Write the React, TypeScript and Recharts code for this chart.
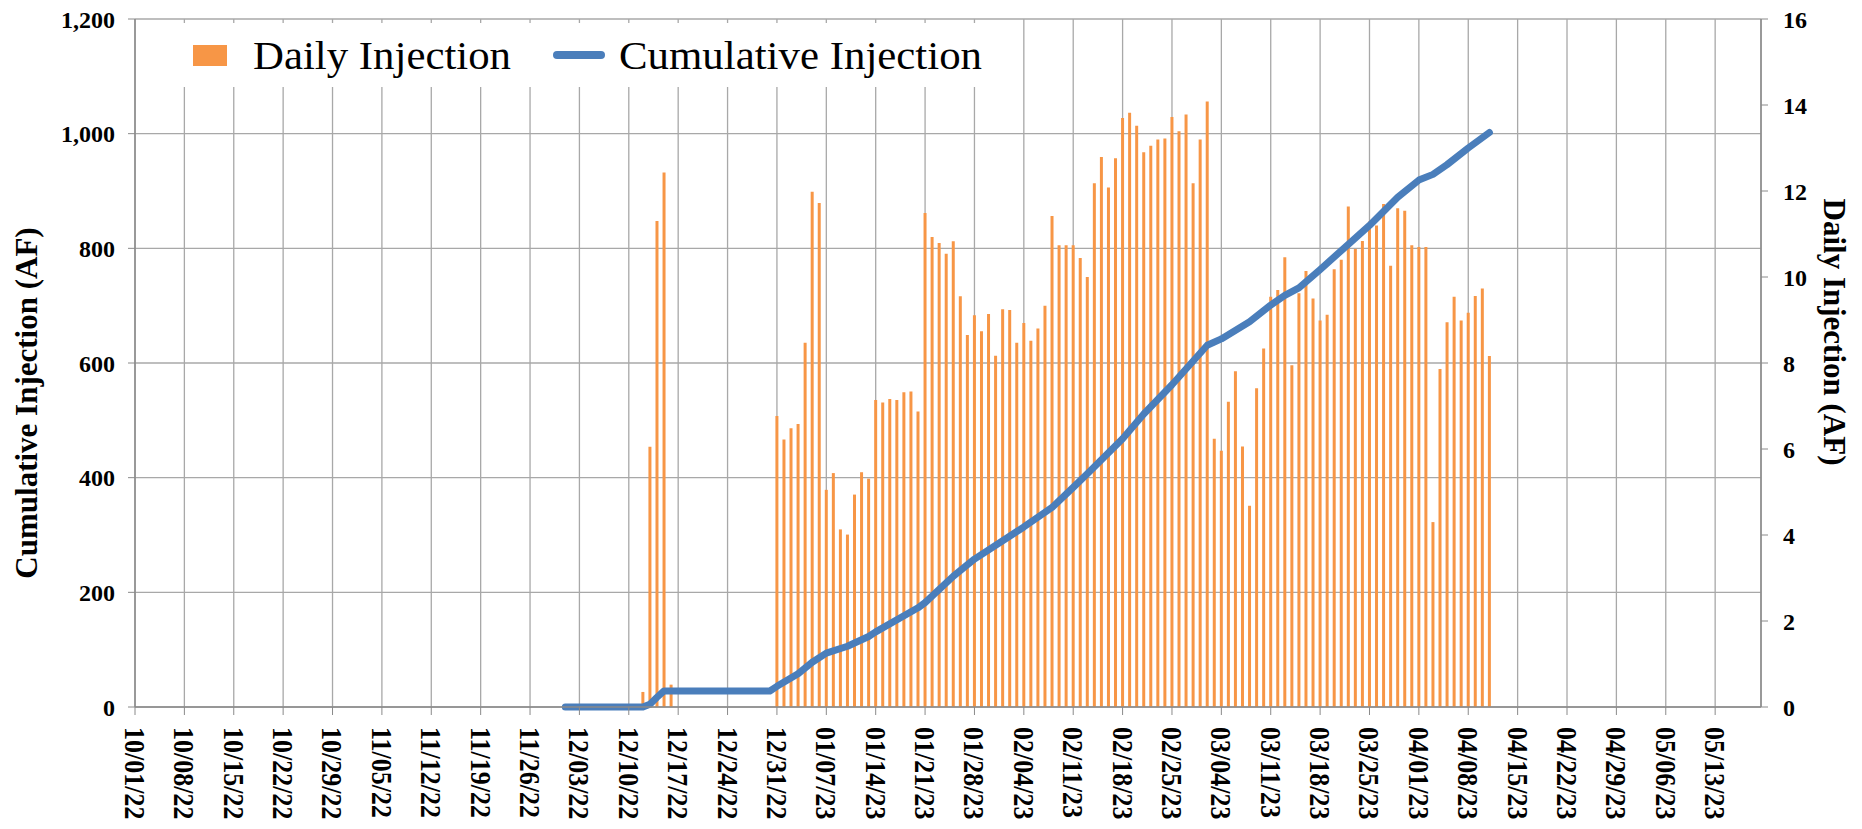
import React from "react"
import { ComposedChart, Bar, Line, XAxis, YAxis, CartesianGrid } from "recharts"

// weekly date labels on the x axis (first one is the axis origin)
const weekLabels = [
  "10/01/22", "10/08/22", "10/15/22", "10/22/22", "10/29/22", "11/05/22", "11/12/22",
  "11/19/22", "11/26/22", "12/03/22", "12/10/22", "12/17/22", "12/24/22", "12/31/22",
  "01/07/23", "01/14/23", "01/21/23", "01/28/23", "02/04/23", "02/11/23", "02/18/23",
  "02/25/23", "03/04/23", "03/11/23", "03/18/23", "03/25/23", "04/01/23", "04/08/23",
  "04/15/23", "04/22/23", "04/29/23", "05/06/23", "05/13/23",
]

// daily injection (AF), one value per day starting 12/12/22
const dailyStart = "12/12/22"
const dailyValues = [
  0.35, 6.05, 11.3, 12.43, 0.52,
  null, null, null, null, null, null, null, null, null, null, null, null, null, null,
  6.77,
  6.22, 6.48, 6.58, 8.47, 11.98, 11.72, 5.05, 5.44, 4.13, 4.01, 4.94, 5.46, 5.31, 7.14, 7.08,
  7.16, 7.14, 7.32, 7.34, 6.87, 11.49, 10.93, 10.79, 10.54, 10.83, 9.55, 8.65, 9.11, 8.74, 9.14, 8.17,
  9.25, 9.23, 8.47, 8.93, 8.52, 8.8, 9.33, 11.42, 10.74, 10.74, 10.74, 10.44, 10.0, 12.18,
  12.79, 12.08, 12.76, 13.7, 13.82, 13.52, 12.9, 13.05, 13.2, 13.22, 13.72, 13.39, 13.78, 12.18,
  13.2, 14.08, 6.24, 5.96, 7.1, 7.81, 6.06, 4.68, 7.41, 8.34, 9.54, 9.7, 10.46, 7.95, 9.62,
  10.14, 9.5, 8.99, 9.12, 10.18, 10.4, 11.64, 10.65, 10.84, 11.29, 11.2, 11.7, 10.26, 11.6, 11.54, 10.74,
  10.7, 10.7, 4.3, 7.86, 8.95, 9.54, 8.99, 9.17, 9.56, 9.73, 8.16,
]

// cumulative injection (AF) read at these dates
const cumDates = [
  "12/01/22", "12/12/22", "12/13/22", "12/14/22", "12/15/22", "12/30/22", "12/31/22",
  "01/03/23", "01/05/23", "01/07/23", "01/10/23", "01/13/23", "01/14/23", "01/20/23",
  "01/21/23", "01/25/23", "01/28/23", "02/04/23", "02/08/23", "02/11/23", "02/13/23",
  "02/18/23", "02/21/23", "02/25/23", "03/02/23", "03/04/23", "03/08/23", "03/11/23",
  "03/13/23", "03/15/23", "03/18/23", "03/22/23", "03/25/23", "03/29/23", "04/01/23",
  "04/03/23", "04/05/23", "04/08/23", "04/11/23",
]
const cumValues = [
  0, 0, 5, 17, 28, 28, 36,
  58, 78, 94, 106, 123, 131, 173,
  182, 228, 258, 314, 348, 383, 407,
  468, 511, 562, 631, 642, 672, 701,
  718, 731, 763, 807, 840, 889, 919,
  929, 946, 975, 1002,
]

const leftTicks = [0, 200, 400, 600, 800, 1000, 1200]
const rightTicks = [0, 2, 4, 6, 8, 10, 12, 14, 16]

const ORIGIN = Date.UTC(2022, 9, 1)
const dayOf = (s: string) => {
  const [m, d, y] = s.split("/").map(Number)
  return Math.round((Date.UTC(2000 + y, m - 1, d) - ORIGIN) / 86400000)
}

const TOTAL_DAYS = 231
const X_MAX = 230.5

const data = Array.from({ length: TOTAL_DAYS }, (_, day) => ({
  day,
  daily: null as number | null,
  cum: null as number | null,
}))
dailyValues.forEach((v, i) => {
  data[dayOf(dailyStart) + i].daily = v
})
cumDates.forEach((s, i) => {
  data[dayOf(s)].cum = cumValues[i]
})

const weekTicks = weekLabels.map(dayOf)
const dayTicks = data.map((d) => d.day)
const leftMinor = Array.from({ length: 31 }, (_, i) => i * 40)
const rightMinor = Array.from({ length: 33 }, (_, i) => i * 0.5)

const FONT = "'Liberation Serif', 'Times New Roman', serif"
const AXIS = "#8a8a8a"
const GRID = "#a8a8a8"

const DateTick = (props: any) => {
  const { x, y, payload } = props
  const label = weekLabels[weekTicks.indexOf(payload.value)]
  return (
    <text
      x={0}
      y={0}
      transform={`translate(${x}, ${y}) rotate(90) scale(1, 1.12)`}
      textAnchor="start"
      dominantBaseline="central"
      fontFamily={FONT}
      fontWeight="bold"
      fontSize={26}
      fill="#000"
    >
      {label}
    </text>
  )
}

const LeftTitle = (props: any) => {
  const { viewBox } = props
  const cx = viewBox.x + 26
  const cy = viewBox.y + viewBox.height / 2 + 40
  return (
    <text
      x={cx}
      y={cy}
      transform={`rotate(-90, ${cx}, ${cy})`}
      textAnchor="middle"
      dominantBaseline="central"
      fontFamily={FONT}
      fontWeight="bold"
      fontSize={31}
      fill="#000"
    >
      Cumulative Injection (AF)
    </text>
  )
}

const RightTitle = (props: any) => {
  const { viewBox } = props
  const cx = viewBox.x + viewBox.width - 28
  const cy = viewBox.y + viewBox.height / 2 - 31
  return (
    <text
      x={cx}
      y={cy}
      transform={`rotate(90, ${cx}, ${cy})`}
      textAnchor="middle"
      dominantBaseline="central"
      fontFamily={FONT}
      fontWeight="bold"
      fontSize={31}
      fill="#000"
    >
      Daily Injection (AF)
    </text>
  )
}

const tickStyle = { fontFamily: FONT, fontWeight: "bold", fontSize: 24, fill: "#000" }

export default function App() {
  return (
    <div style={{ position: "absolute", left: 0, top: 0, width: 1862, height: 829, background: "#fff" }}>
      <ComposedChart
        width={1862}
        height={829}
        data={data}
        margin={{ top: 19, right: 0, bottom: 0, left: 0 }}
      >
        <XAxis
          xAxisId="minor"
          dataKey="day"
          type="number"
          domain={[0, X_MAX]}
          allowDataOverflow
          ticks={dayTicks}
          interval={0}
          tick={false}
          tickSize={5}
          axisLine={false}
          tickLine={{ stroke: AXIS }}
          height={0}
        />
        <XAxis
          dataKey="day"
          type="number"
          domain={[0, X_MAX]}
          allowDataOverflow
          ticks={weekTicks}
          interval={0}
          tick={<DateTick />}
          tickSize={8}
          tickMargin={12}
          axisLine={{ stroke: AXIS, strokeWidth: 1.5 }}
          tickLine={{ stroke: AXIS }}
          height={122}
        />
        <YAxis
          yAxisId="leftMinor"
          orientation="left"
          domain={[0, 1200]}
          ticks={leftMinor}
          interval={0}
          tick={false}
          tickSize={5}
          axisLine={false}
          tickLine={{ stroke: AXIS }}
          width={0}
        />
        <YAxis
          yAxisId="left"
          orientation="left"
          domain={[0, 1200]}
          ticks={leftTicks}
          interval={0}
          tickSize={7}
          tickMargin={13}
          tick={tickStyle}
          tickFormatter={(v: number) => v.toLocaleString("en-US")}
          axisLine={{ stroke: AXIS, strokeWidth: 1.5 }}
          tickLine={{ stroke: AXIS }}
          width={135}
          label={{ content: <LeftTitle /> }}
        />
        <YAxis
          yAxisId="rightMinor"
          orientation="right"
          domain={[0, 16]}
          ticks={rightMinor}
          interval={0}
          tick={false}
          tickSize={5}
          axisLine={false}
          tickLine={{ stroke: AXIS }}
          width={0}
        />
        <YAxis
          yAxisId="right"
          orientation="right"
          domain={[0, 16]}
          ticks={rightTicks}
          interval={0}
          tickSize={7}
          tickMargin={15}
          tick={tickStyle}
          axisLine={{ stroke: AXIS, strokeWidth: 1.5 }}
          tickLine={{ stroke: AXIS }}
          width={101}
          label={{ content: <RightTitle /> }}
        />
        <CartesianGrid yAxisId="left" stroke={GRID} strokeWidth={1.3} />
        <Bar
          dataKey="daily"
          yAxisId="right"
          fill="#F79646"
          barSize={3}
          isAnimationActive={false}
        />
        <Line
          dataKey="cum"
          yAxisId="left"
          type="linear"
          stroke="#4A7EBB"
          strokeWidth={7}
          strokeLinecap="round"
          strokeLinejoin="round"
          dot={false}
          activeDot={false}
          connectNulls
          isAnimationActive={false}
        />
      </ComposedChart>

      <svg
        width={863}
        height={64}
        style={{ position: "absolute", left: 137, top: 23, background: "#fff" }}
      >
        <rect x={56} y={22} width={34} height={21} fill="#F79646" />
        <text x={116} y={46} fontFamily={FONT} fontSize={41} fill="#000" textLength={258} lengthAdjust="spacingAndGlyphs">
          Daily Injection
        </text>
        <line x1={420} y1={32} x2={464} y2={32} stroke="#4A7EBB" strokeWidth={8} strokeLinecap="round" />
        <text x={482} y={46} fontFamily={FONT} fontSize={41} fill="#000" textLength={363} lengthAdjust="spacingAndGlyphs">
          Cumulative Injection
        </text>
      </svg>
    </div>
  )
}
